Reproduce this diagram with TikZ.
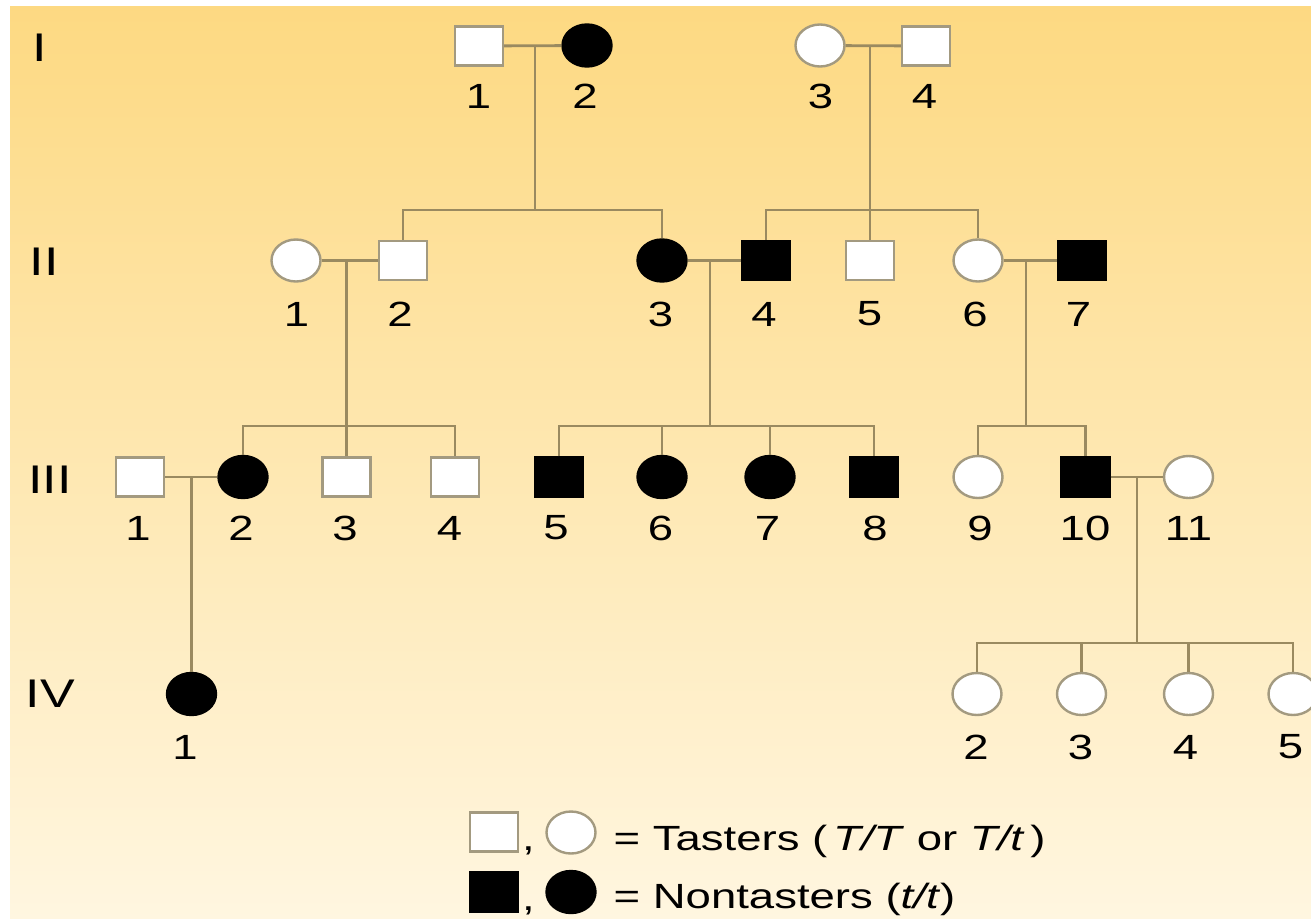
\documentclass[tikz,border=0pt]{standalone}
\usepackage{fontspec}
\setmainfont{Liberation Sans}
\newfontfamily\pedfont[FakeStretch=1.3]{Liberation Sans}
\usetikzlibrary{shapes.geometric}
\definecolor{bgtop}{HTML}{FDD982}
\definecolor{bgmid}{HTML}{FEE8AA}
\definecolor{bgbot}{HTML}{FFF6E0}
\definecolor{linecol}{HTML}{9A8A60}
\definecolor{symline}{HTML}{A39A80}
\begin{document}
\begin{tikzpicture}[x=1pt,y=-1pt,
  sqsym/.style={rectangle, minimum width=48pt, minimum height=39pt, inner sep=0pt, line width=2.4pt},
  cisym/.style={ellipse, minimum width=49pt, minimum height=42pt, inner sep=0pt, line width=2.4pt},
  opensym/.style={draw=symline, fill=white},
  affsym/.style={draw=black, fill=black},
  conn/.style={draw=linecol, line width=2.8pt},
  numlab/.style={inner sep=0pt, font=\pedfont\fontsize{35}{40}\selectfont, text=black},
  genlab/.style={inner sep=0pt, font=\pedfont\fontsize{40}{44}\selectfont, text=black},
  leglab/.style={inner sep=0pt, anchor=base west, font=\pedfont\fontsize{35}{40}\selectfont, text=black}
]
\clip (0,0) rectangle (1311,918);
\fill[white] (0,0) rectangle (1311,918);
\shade[top color=bgtop, middle color=bgmid, bottom color=bgbot] (10,6) rectangle (1311,918);

% generation labels
\node[genlab] (gI) at (40,47.5) {I};
\node[genlab] (gII) at (44,262) {II};
\node[genlab] (gIII) at (50,480) {III};
\node[genlab] (gIV) at (50.5,694) {IV};

% generation I
\node[sqsym,opensym] (I1) at (479,46) {};
\node[cisym,affsym] (I2) at (587,45.5) {};
\node[cisym,opensym] (I3) at (820,45.5) {};
\node[sqsym,opensym] (I4) at (926,46) {};

% generation II
\node[cisym,opensym] (II1) at (296,260.5) {};
\node[sqsym,opensym] (II2) at (403,260.5) {};
\node[cisym,affsym] (II3) at (662,260.5) {};
\node[sqsym,affsym] (II4) at (766,260.5) {};
\node[sqsym,opensym] (II5) at (870,260.5) {};
\node[cisym,opensym] (II6) at (978,260.5) {};
\node[sqsym,affsym] (II7) at (1082,260.5) {};

% generation III
\node[sqsym,opensym] (III1) at (140,477) {};
\node[cisym,affsym] (III2) at (243,477) {};
\node[sqsym,opensym] (III3) at (346.5,477) {};
\node[sqsym,opensym] (III4) at (455,477) {};
\node[sqsym,affsym] (III5) at (559,477) {};
\node[cisym,affsym] (III6) at (662,477) {};
\node[cisym,affsym] (III7) at (770,477) {};
\node[sqsym,affsym] (III8) at (874,477) {};
\node[cisym,opensym] (III9) at (978,477) {};
\node[sqsym,affsym] (III10) at (1085.5,477) {};
\node[cisym,opensym] (III11) at (1188.5,477) {};

% generation IV
\node[cisym,affsym] (IV1) at (191.5,694) {};
\node[cisym,opensym] (IV2) at (977,694) {};
\node[cisym,opensym] (IV3) at (1081.5,694) {};
\node[cisym,opensym] (IV4) at (1188.5,694) {};
\node[cisym,opensym] (IV5) at (1293,694) {};

% coordinates of mating and sibship lines
\coordinate (mI12) at (535,45.5);
\coordinate (sI12) at (535,210);
\coordinate (mI34) at (870,45.5);
\coordinate (sI34) at (870,210);
\coordinate (mII12) at (346.5,260.5);
\coordinate (sII12) at (346.5,426);
\coordinate (mII34) at (710,260.5);
\coordinate (sII34) at (710,426);
\coordinate (mII67) at (1026,260.5);
\coordinate (sII67) at (1026,426);
\coordinate (mIII12) at (191.5,477);
\coordinate (mIII1011) at (1137,477);
\coordinate (sIII1011) at (1137,643);

% connectors
\draw[conn] (I1) -- (I2);
\draw[conn] (mI12) -- (sI12);
\draw[conn] (II2.north) |- (sI12) -| (II3.north);

\draw[conn] (I3) -- (I4);
\draw[conn] (mI34) -- (II5.north);
\draw[conn] (II4.north) |- (sI34) -| (II6.north);

\draw[conn] (II1) -- (II2);
\draw[conn] (mII12) -- (III3.north);
\draw[conn] (III2.north) |- (sII12) -| (III4.north);

\draw[conn] (II3) -- (II4);
\draw[conn] (mII34) -- (sII34);
\draw[conn] (III5.north) |- (sII34) -| (III8.north);
\draw[conn] (III6.north) -- (III6.north |- sII34);
\draw[conn] (III7.north) -- (III7.north |- sII34);

\draw[conn] (II6) -- (II7);
\draw[conn] (mII67) -- (sII67);
\draw[conn] (III9.north) |- (sII67) -| (III10.north);

\draw[conn] (III1) -- (III2);
\draw[conn] (mIII12) -- (IV1.north);

\draw[conn] (III10) -- (III11);
\draw[conn] (mIII1011) -- (sIII1011);
\draw[conn] (IV2.north) |- (sIII1011) -| (IV5.north);
\draw[conn] (IV3.north) -- (IV3.north |- sIII1011);
\draw[conn] (IV4.north) -- (IV4.north |- sIII1011);

% number labels
\node[numlab] (lI1) at (478.5,96.5) {1};
\node[numlab] (lI2) at (585,96.5) {2};
\node[numlab] (lI3) at (820.5,96.5) {3};
\node[numlab] (lI4) at (924.5,96.5) {4};

\node[numlab] (lII1) at (296.5,314) {1};
\node[numlab] (lII2) at (400,314) {2};
\node[numlab] (lII3) at (660.5,314) {3};
\node[numlab] (lII4) at (764,314) {4};
\node[numlab] (lII5) at (869.5,314) {5};
\node[numlab] (lII6) at (975,314) {6};
\node[numlab] (lII7) at (1078.5,314) {7};

\node[numlab] (lIII1) at (138,528) {1};
\node[numlab] (lIII2) at (241,528) {2};
\node[numlab] (lIII3) at (345,528) {3};
\node[numlab] (lIII4) at (449.5,528) {4};
\node[numlab] (lIII5) at (556,528) {5};
\node[numlab] (lIII6) at (660.5,528) {6};
\node[numlab] (lIII7) at (767.5,528) {7};
\node[numlab] (lIII8) at (875,528) {8};
\node[numlab] (lIII9) at (980,528) {9};
\node[numlab] (lIII10) at (1085,528) {10};
\node[numlab] (lIII11) at (1188.5,528) {11};

\node[numlab] (lIV1) at (185,747) {1};
\node[numlab] (lIV2) at (976,747) {2};
\node[numlab] (lIV3) at (1080.5,747) {3};
\node[numlab] (lIV4) at (1185.5,747) {4};
\node[numlab] (lIV5) at (1290.5,747) {5};

% legend
\node[sqsym,opensym] (legsqo) at (494,832) {};
\node[leglab] (legc1) at (522,850) {,};
\node[cisym,opensym] (legcio) at (571,832.5) {};
\node[leglab] (legt1) at (613.5,850) {= Tasters (\,\textit{T/T} or \textit{T/t}\,)};
\node[sqsym,affsym] (legsqa) at (494,892) {};
\node[leglab] (legc2) at (522,910) {,};
\node[cisym,affsym] (legcia) at (571,892) {};
\node[leglab] (legt2) at (613.5,908) {= Nontasters (\textit{t/t})};
\end{tikzpicture}
\end{document}
